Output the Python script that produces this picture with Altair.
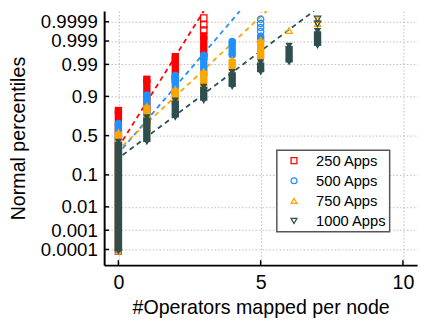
import altair as alt
import pandas as pd
from statistics import NormalDist

FONT = "Liberation Sans"

series = ["250 Apps", "500 Apps", "750 Apps", "1000 Apps"]
colors = ["#ff0000", "#1e90ff", "#ffa500", "#2f4f4f"]
shapes = ["square", "circle", "triangle-up", "triangle-down"]

# Dense columns of points in probit (z) units:
# one column per x value, spanning from z_lo to z_hi.
red_x = [0, 1, 2, 3]
red_lo = [-3.78, 0.82, 1.84, 2.58]
red_hi = [0.82, 1.84, 2.58, 3.25]

blue_x = [0, 1, 2, 3, 4, 5]
blue_lo = [-3.78, 0.40, 1.33, 1.97, 2.63, 3.08]
blue_hi = [0.40, 1.33, 1.97, 2.63, 3.08, 3.25]

orange_x = [0, 1, 2, 3, 4, 5]
orange_lo = [-3.78, 0.13, 0.99, 1.54, 2.12, 2.50]
orange_hi = [0.13, 0.99, 1.54, 2.12, 2.50, 3.14]

dark_x = [0, 1, 2, 3, 4, 5, 6, 7]
dark_lo = [-3.78, -0.21, 0.59, 1.14, 1.59, 2.07, 2.39, 2.93]
dark_hi = [-0.21, 0.59, 1.14, 1.59, 2.07, 2.39, 2.93, 3.41]

# Sparse (individually visible) points at the top of the distributions
red_open_x = [3, 3, 3]
red_open_z = [3.45, 3.62, 3.84]
blue_open_x = [5, 5, 5, 5]
blue_open_z = [3.40, 3.53, 3.66, 3.80]
orange_open_x = [6, 7, 7]
orange_open_z = [3.43, 3.65, 3.80]
dark_open_x = [7, 7]
dark_open_z = [3.65, 3.81]

# Dashed fit lines (end points)
red_fit_x = [0.15, 3.00]
red_fit_z = [-0.16, 4.07]
blue_fit_x = [0.15, 4.27]
blue_fit_z = [-0.42, 4.07]
orange_fit_x = [0.15, 5.21]
orange_fit_z = [-0.33, 4.07]
dark_fit_x = [0.15, 6.87]
dark_fit_z = [-0.635, 4.07]

tick_p = [0.0001, 0.001, 0.01, 0.1, 0.5, 0.9, 0.99, 0.999, 0.9999]
tick_labels = ["0.0001", "0.001", "0.01", "0.1", "0.5", "0.9", "0.99", "0.999", "0.9999"]
x_ticks = [0, 5, 10]

W, H = 319, 259
tick_z = [NormalDist().inv_cdf(p) for p in tick_p]

# label expression mapping tick positions back to percentile text
expr = ""
for i in range(len(tick_z) - 1):
    mid = (tick_z[i] + tick_z[i + 1]) / 2
    expr += f"datum.value < {mid:.4f} ? '{tick_labels[i]}' : "
expr += f"'{tick_labels[-1]}'"


def xenc(field="x"):
    return alt.X(
        f"{field}:Q",
        scale=alt.Scale(domain=[-0.5, 10.5], nice=False, zero=False),
        axis=alt.Axis(values=x_ticks, title="#Operators mapped per node", ticks=False,
                      labelPadding=8, titlePadding=5, format="d", labelOverlap=False,
                      labelFontSize=20),
    )


def yenc(field="z"):
    return alt.Y(
        f"{field}:Q",
        scale=alt.Scale(domain=[-4.23, 4.07], nice=False, zero=False),
        axis=alt.Axis(values=tick_z, labelExpr=expr, title="Normal percentiles", ticks=False,
                      labelPadding=7, titlePadding=12, labelOverlap=False,
                      labelFontSize=19),
    )


layers = []

fits = [
    (red_fit_x, red_fit_z),
    (blue_fit_x, blue_fit_z),
    (orange_fit_x, orange_fit_z),
    (dark_fit_x, dark_fit_z),
]
for (fx, fz), col in zip(fits, colors):
    layers.append(
        alt.Chart(pd.DataFrame({"x": fx, "z": fz}))
        .mark_line(color=col, strokeDash=[5, 4], strokeWidth=1.8, clip=True)
        .encode(x=xenc(), y=yenc())
    )

cols_data = [
    (red_x, red_lo, red_hi, red_open_x, red_open_z),
    (blue_x, blue_lo, blue_hi, blue_open_x, blue_open_z),
    (orange_x, orange_lo, orange_hi, orange_open_x, orange_open_z),
    (dark_x, dark_lo, dark_hi, dark_open_x, dark_open_z),
]
for (cx, clo, chi, ox, oz), col, shp in zip(cols_data, colors, shapes):
    layers.append(
        alt.Chart(pd.DataFrame({"x": cx, "z": clo, "z2": chi}))
        .mark_rule(color=col, strokeWidth=7.5)
        .encode(x=xenc(), y=yenc(), y2=alt.Y2("z2:Q"))
    )
    layers.append(
        alt.Chart(pd.DataFrame({"x": cx + cx, "z": clo + chi}))
        .mark_point(filled=True, shape=shp, size=56, color=col, opacity=1)
        .encode(x=xenc(), y=yenc())
    )
    layers.append(
        alt.Chart(pd.DataFrame({"x": ox, "z": oz}))
        .mark_point(filled=False, shape=shp, size=42, color=col, strokeWidth=1.3, opacity=1)
        .encode(x=xenc(), y=yenc())
    )

# inward tick marks
layers.append(
    alt.Chart(pd.DataFrame({"z": tick_z}))
    .mark_rule(color="black", strokeWidth=1.5)
    .encode(y=yenc(), x=alt.value(0), x2=alt.value(5))
)
layers.append(
    alt.Chart(pd.DataFrame({"x": x_ticks}))
    .mark_rule(color="black", strokeWidth=1.5)
    .encode(x=xenc(), y=alt.value(H), y2=alt.value(H - 5))
)

# legend carrier (drawn off-canvas)
leg = alt.Legend(orient="none", legendX=176, legendY=142, title=None)
layers.append(
    alt.Chart(pd.DataFrame({"series": series}))
    .mark_point(filled=False, size=36, strokeWidth=1.3, opacity=1)
    .encode(
        x=alt.value(-500),
        y=alt.value(-500),
        color=alt.Color("series:N", scale=alt.Scale(domain=series, range=colors), legend=leg),
        shape=alt.Shape("series:N", scale=alt.Scale(domain=series, range=shapes), legend=leg),
    )
)

chart = (
    alt.layer(*layers)
    .properties(
        width=W,
        height=H,
        autosize=alt.AutoSizeParams(type="none"),
        padding={"left": 98, "top": 0, "right": 7, "bottom": 60},
        background="white",
    )
    .configure_view(stroke="transparent")
    .configure_axis(
        labelFont=FONT,
        titleFont=FONT,
        titleFontSize=20,
        titleFontWeight="normal",
        labelColor="black",
        titleColor="black",
        domainColor="black",
        domainWidth=2,
        grid=True,
        gridColor="#bdbdbd",
        gridDash=[1.5, 2],
        gridWidth=1,
    )
    .configure_legend(
        labelFont=FONT,
        labelFontSize=15,
        labelColor="black",
        padding=3,
        rowPadding=4.5,
        symbolOffset=7,
        labelOffset=15,
        strokeColor="#555555",
        strokeWidth=1.5,
        fillColor="white",
        symbolStrokeWidth=1.3,
        symbolSize=36,
    )
)

chart.save("out.html", embed_options={"renderer": "svg", "actions": False})
